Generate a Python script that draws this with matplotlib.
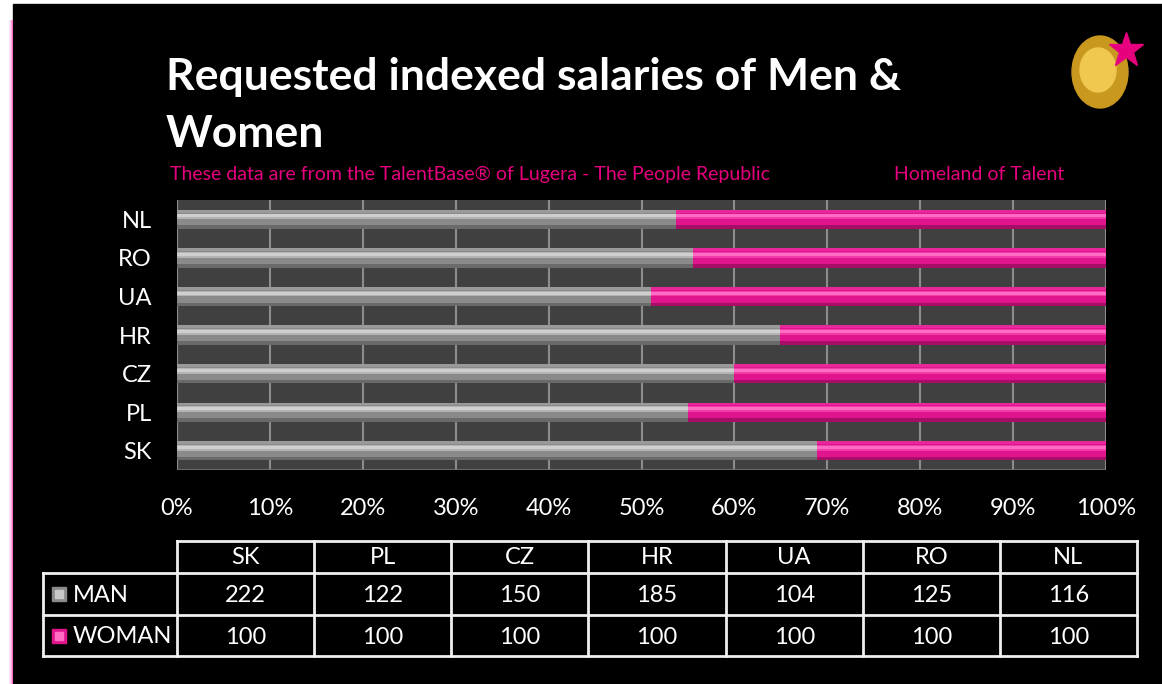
import numpy as np
import matplotlib.pyplot as plt
from matplotlib.patches import Rectangle, Ellipse

plt.rcParams['font.family'] = ['Lato', 'DejaVu Sans']

# Data (indexed salaries, woman = 100)
countries = ['SK', 'PL', 'CZ', 'HR', 'UA', 'RO', 'NL']
man = np.array([222, 122, 150, 185, 104, 125, 116])
woman = np.array([100, 100, 100, 100, 100, 100, 100])
x_ticks = np.arange(0, 101, 10)
x_labels = [f'{t}%' for t in x_ticks]

man_pct = man / (man + woman) * 100
woman_pct = woman / (man + woman) * 100

W, H = 1162, 684
fig = plt.figure(figsize=(W / 100, H / 100), dpi=100)
fig.patch.set_facecolor('white')

# background: black panel with a pink glow on the left edge
bg = fig.add_axes([0, 0, 1, 1])
bg.set_xlim(0, W)
bg.set_ylim(H, 0)
bg.axis('off')
bg.add_patch(Rectangle((13, 4), W - 13, H - 4, color='black', zorder=0))
for i, a in enumerate([0.15, 0.3, 0.55, 0.85]):
    bg.add_patch(Rectangle((9 + i, 20), 1, H - 20, color='#ff5fc0', alpha=a, lw=0, zorder=1))

# title and subtitle
bg.text(166, 77, 'Requested indexed salaries of Men &', color='white', fontsize=32,
        fontweight='bold', va='center', ha='left')
bg.text(166, 134, 'Women', color='white', fontsize=32, fontweight='bold', va='center', ha='left')
bg.text(170, 174, 'These data are from the TalentBase® of Lugera - The People Republic',
        color='#e6007e', fontsize=14, va='center', ha='left')
bg.text(894, 174, 'Homeland of Talent', color='#e6007e', fontsize=14, va='center', ha='left')

# simple stand-in for the logo
bg.add_patch(Ellipse((1100, 72), 56, 72, color='#c9981f', zorder=2))
bg.add_patch(Ellipse((1098, 70), 36, 44, color='#f0c850', zorder=3))
bg.plot([1126], [50], marker='*', markersize=26, color='#e6007e', zorder=4)

# main chart
ax = fig.add_axes([177 / W, 1 - 470 / H, (1106 - 177) / W, (470 - 200) / H])
ax.set_facecolor('#404040')
y = np.arange(len(countries))
h = 0.5

def bevel_bars(left, width, shades):
    # shades: (offset from bar bottom, height, colour) slices for a 3-D look
    for off, hh, c in shades:
        ax.barh(y - h / 2 + off * h, width, height=hh * h, left=left, align='edge',
                color=c, lw=0, zorder=3)

gray_shades = [(0, 1, '#8a8a8a'), (0, 0.18, '#6a6a6a'), (0.5, 0.3, '#b4b4b4'),
               (0.6, 0.15, '#cfcfcf'), (0.85, 0.15, '#9a9a9a')]
pink_shades = [(0, 1, '#e0148c'), (0, 0.18, '#a80e68'), (0.5, 0.3, '#f23aa8'),
               (0.6, 0.15, '#ff6cc4'), (0.85, 0.15, '#e8289a')]
bevel_bars(0, man_pct, gray_shades)
bevel_bars(man_pct, woman_pct, pink_shades)

ax.set_xlim(0, 100)
ax.set_ylim(-0.5, len(countries) - 0.5)
ax.set_xticks(x_ticks)
ax.set_xticklabels(x_labels, color='white', fontsize=17)
ax.set_yticks(y)
ax.set_yticklabels(countries, color='white', fontsize=17)
ax.tick_params(length=0, pad=20, axis='x')
ax.tick_params(length=0, pad=18, axis='y')
ax.grid(axis='x', color='#8c8c8c', lw=1.5, zorder=1)
for s in ax.spines.values():
    s.set_visible(False)
ax.axvline(0, color='#8c8c8c', lw=1.5, zorder=2)
ax.axhline(-0.5, color='#707070', lw=2, zorder=2)

# data table under the chart
col_x = np.linspace(177, 1137, len(countries) + 1)
row_y = [541, 573, 615, 656]
lc = '#f0f0f0'
bg.plot([col_x[0], col_x[-1]], [row_y[0], row_y[0]], color=lc, lw=2)
for yy in row_y[1:]:
    bg.plot([43, col_x[-1]], [yy, yy], color=lc, lw=2)
for xx in col_x:
    bg.plot([xx, xx], [row_y[0], row_y[-1]], color=lc, lw=2)
bg.plot([43, 43], [row_y[1], row_y[-1]], color=lc, lw=2)

for i, c in enumerate(countries):
    cx = (col_x[i] + col_x[i + 1]) / 2
    bg.text(cx, (row_y[0] + row_y[1]) / 2 + 1, c, color='white', fontsize=17, ha='center', va='center')
    bg.text(cx, (row_y[1] + row_y[2]) / 2 + 2, str(man[i]), color='white', fontsize=17, ha='center', va='center')
    bg.text(cx, (row_y[2] + row_y[3]) / 2 + 2, str(woman[i]), color='white', fontsize=17, ha='center', va='center')

for (name, yy, c1, c2) in [('MAN', (row_y[1] + row_y[2]) / 2, '#8a8a8a', '#c8c8c8'),
                           ('WOMAN', (row_y[2] + row_y[3]) / 2, '#e0148c', '#ff6cc4')]:
    bg.add_patch(Rectangle((52, yy - 7), 14, 14, color=c1, zorder=3))
    bg.add_patch(Rectangle((55, yy - 4), 8, 8, color=c2, zorder=4))
    bg.text(73, yy + 1, name, color='white', fontsize=17, ha='left', va='center')

fig.savefig('out.png', dpi=100, facecolor=fig.get_facecolor())
